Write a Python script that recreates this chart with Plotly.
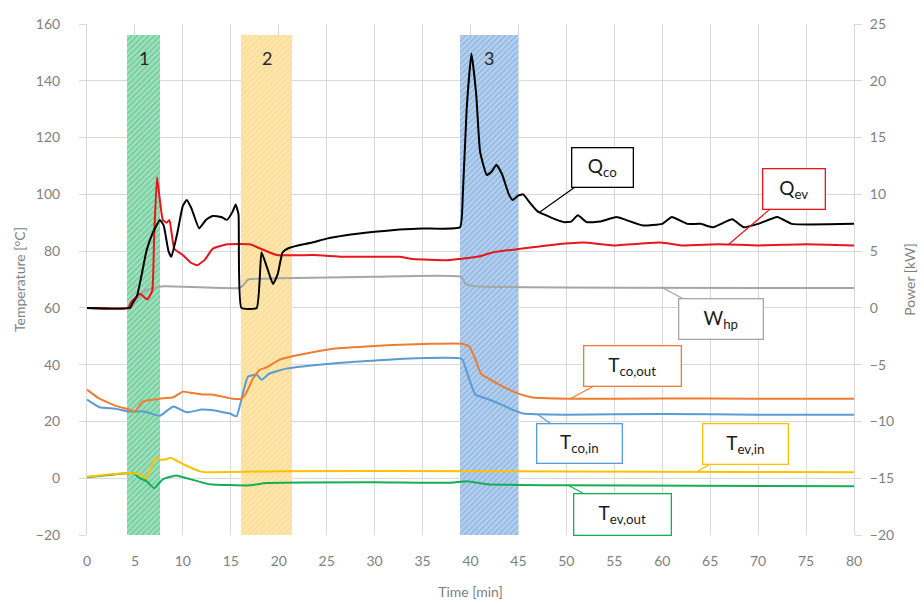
import numpy as np
import plotly.graph_objects as go

# ---------------- data ----------------
# Power series [kW] (right axis)
t_qco = [0, 4.5, 4.8, 5.2, 5.6, 6.2, 6.8, 7.6, 8.0, 8.5, 8.8, 9.4, 10.0, 10.4, 10.9, 11.7, 12.4,
         13.1, 14.0, 14.6, 15.2, 15.5, 15.8, 16.1, 17.7, 18.2, 18.8, 19.4, 19.9, 20.4, 21.0, 22.0,
         23.5, 25.0, 27.0, 30.0, 32.6, 35.0, 38.9, 39.2, 39.6, 40.1, 40.6, 41.0, 41.7, 42.2, 42.7,
         43.3, 44.0, 44.4, 45.0, 45.5, 46.2, 47.0, 47.6, 49.0, 49.8, 50.5, 51.2, 52.1, 53.5, 55.2,
         56.2, 58.0, 60.0, 61.0, 62.6, 64.0, 65.3, 67.3, 68.5, 70.0, 72.0, 73.5, 80.0]
q_co = [0, 0, 0.5, 1.0, 2.5, 5.0, 6.5, 7.75, 7.25, 5.0, 4.5, 6.5, 9.0, 9.5, 8.75, 7.0, 7.75,
        8.1, 8.0, 7.75, 8.5, 9.1, 8.25, 0, 0, 4.9, 3.5, 2.1, 3.0, 4.9, 5.25, 5.5,
        5.75, 6.1, 6.4, 6.7, 6.9, 7.0, 7.1, 10.0, 17.5, 22.4, 18.75, 13.75, 11.7, 12.0, 12.6,
        11.75, 10.0, 9.5, 9.9, 10.0, 9.25, 8.5, 8.25, 7.75, 7.55, 7.6, 8.15, 7.55, 7.6, 8.0,
        7.75, 7.25, 7.4, 8.0, 7.4, 7.4, 7.1, 7.8, 7.1, 7.4, 8.0, 7.4, 7.4]

t_qev = [0, 4.3, 4.6, 5.5, 6.3, 6.8, 7.0, 7.3, 7.6, 7.9, 8.3, 8.6, 9.1, 10.0, 10.8, 11.5, 12.3,
         13.1, 14.6, 17.0, 18.0, 19.8, 23.6, 27.0, 32.6, 34.0, 37.5, 40.7, 42.4, 45.2, 48.0, 51.8,
         54.9, 59.8, 62.0, 66.0, 70.0, 75.0, 80.0]
q_ev = [0, 0, 0.5, 1.25, 0.75, 1.5, 6.25, 11.5, 9.5, 7.75, 7.5, 7.75, 5.2, 4.65, 4.0, 3.75, 4.25,
        5.2, 5.6, 5.6, 5.25, 4.65, 4.65, 4.5, 4.5, 4.3, 4.2, 4.5, 4.9, 5.2, 5.5, 5.75,
        5.5, 5.75, 5.5, 5.6, 5.5, 5.6, 5.5]

t_whp = [0, 4.5, 5.2, 6.0, 7.0, 8.0, 15.8, 16.3, 16.8, 20.0, 30.0, 39.0, 39.5, 40.5, 80.0]
w_hp = [0, 0, 0.75, 1.5, 1.75, 1.9, 1.75, 2.0, 2.5, 2.6, 2.75, 2.75, 2.1, 1.9, 1.75]

# Temperature series [°C] (left axis)
t_tcoout = [0, 1.3, 3.0, 4.4, 5.0, 5.8, 7.6, 9.0, 10.0, 11.0, 12.0, 13.0, 15.2, 16.1, 16.6, 17.3,
            18.0, 18.7, 20.1, 22.2, 25.7, 30.0, 32.6, 36.0, 39.2, 39.9, 40.5, 41.1, 43.0, 45.0,
            46.5, 50.0, 60.0, 70.0, 80.0]
t_co_out = [31.2, 28.0, 25.5, 24.2, 23.5, 27.0, 28.0, 28.5, 30.5, 30.0, 29.5, 29.5, 28.0, 28.0, 30.0, 35.0,
            38.2, 39.0, 41.8, 43.5, 45.6, 46.6, 47.0, 47.4, 47.4, 46.3, 42.0, 36.8, 33.0, 29.8,
            28.4, 28.0, 28.1, 28.0, 28.0]

t_tcoin = [0, 1.3, 3.0, 4.4, 6.0, 7.6, 9.0, 10.4, 12.0, 13.0, 14.9, 15.6, 16.3, 16.8, 17.7, 18.2,
           19.0, 20.8, 25.7, 32.6, 39.1, 39.7, 40.5, 41.7, 43.0, 44.5, 45.5, 50.0, 60.0, 70.0, 80.0]
t_co_in = [27.7, 25.0, 24.5, 23.5, 23.5, 22.0, 25.3, 23.2, 24.2, 24.0, 22.8, 21.8, 30.5, 35.8, 36.5, 34.7,
           36.8, 38.6, 40.4, 42.0, 42.0, 36.5, 29.5, 28.0, 26.3, 24.0, 22.8, 22.4, 22.6, 22.4, 22.4]

t_tevin = [0, 2.0, 4.5, 5.5, 6.2, 6.7, 7.2, 7.6, 8.3, 8.7, 10.0, 11.7, 12.5, 20.0, 40.0, 60.0, 80.0]
t_ev_in = [0.5, 1.2, 1.8, 1.4, 0.0, 4.2, 7.0, 6.5, 6.7, 7.2, 5.0, 2.5, 2.1, 2.5, 2.5, 2.3, 2.1]

t_tevout = [0, 2.0, 4.8, 5.5, 6.2, 7.0, 7.9, 9.3, 10.4, 12.8, 17.0, 18.7, 30.0, 38.0, 39.6, 41.7, 50.0, 80.0]
t_ev_out = [0.3, 1.0, 1.8, 0.0, -1.0, -3.5, -0.4, 1.0, 0.0, -2.1, -2.5, -1.7, -1.4, -1.6, -1.1, -2.1, -2.5, -2.8]

# Highlighted phases
band_labels = ["1", "2", "3"]
band_start = [4.2, 16.1, 38.9]
band_end = [7.6, 21.4, 45.0]
band_bottom = -20
band_top = 156

x_ticks = list(range(0, 81, 5))
y_ticks = list(range(-20, 161, 20))
y2_ticks = list(range(-20, 26, 5))

# ---------------- styling ----------------
FONT = "Lato"
GRID = "#d9d9d9"
TICKC = "#7f7f7f"

band_bg = ["#a2e0bd", "#fde6ad", "#b5d0ee"]
band_fg = ["#62c993", "#f9da92", "#8ab2dd"]

fig = go.Figure()

for lab, s, e, bg, fg in zip(band_labels, band_start, band_end, band_bg, band_fg):
    fig.add_trace(go.Bar(
        x=[(s + e) / 2], y=[band_top - band_bottom], base=[band_bottom], width=[e - s],
        marker=dict(color=bg, line=dict(width=0),
                    pattern=dict(shape="/", fgcolor=fg, bgcolor=bg, size=4, solidity=0.3,
                                 fillmode="replace")),
        showlegend=False, hoverinfo="skip", yaxis="y"))
    fig.add_annotation(x=(s + e) / 2, y=148, xref="x", yref="y", text=lab, showarrow=False,
                       font=dict(family=FONT, size=18, color="#262626"))

series = [
    ("Tev,out", t_tevout, t_ev_out, "#16ad57", "y"),
    ("Tev,in", t_tevin, t_ev_in, "#ffc000", "y"),
    ("Tco,in", t_tcoin, t_co_in, "#5b9bd5", "y"),
    ("Tco,out", t_tcoout, t_co_out, "#ed7d31", "y"),
    ("Whp", t_whp, w_hp, "#a6a6a6", "y2"),
    ("Qev", t_qev, q_ev, "#e8151b", "y2"),
    ("Qco", t_qco, q_co, "#000000", "y2"),
]
for name, xs, ys, col, ax in series:
    fig.add_trace(go.Scatter(x=xs, y=ys, mode="lines", name=name, yaxis=ax,
                             line=dict(color=col, width=2, shape="spline", smoothing=0.4),
                             showlegend=False, hoverinfo="skip"))

# callout labels: (html text, series x, series y, yref, border colour, ax, ay, w, h)
callouts = [
    ("Q<sub>co</sub>", 47.2, np.interp(47.2, t_qco, q_co), "y2", "#000000", 63, -45, 60, 38),
    ("Q<sub>ev</sub>", 66.9, np.interp(66.9, t_qev, q_ev), "y2", "#e8151b", 66, -56, 61, 39),
    ("W<sub>hp</sub>", 59.9, np.interp(59.9, t_whp, w_hp), "y2", "#a6a6a6", 60, 32, 83, 39),
    ("T<sub>co,out</sub>", 50.4, np.interp(50.4, t_tcoout, t_co_out), "y", "#ed7d31", 62, -33, 96, 39),
    ("T<sub>co,in</sub>", 46.9, np.interp(46.9, t_tcoin, t_co_in), "y", "#5b9bd5", 43, 30, 84, 38),
    ("T<sub>ev,in</sub>", 63.6, np.interp(63.6, t_tevin, t_ev_in), "y", "#ffc000", 49, -28, 84, 39),
    ("T<sub>ev,out</sub>", 50.2, np.interp(50.2, t_tevout, t_ev_out), "y", "#16ad57", 54, 29, 96, 40),
]
for txt, xv, yv, yref, col, axp, ayp, w, h in callouts:
    fig.add_annotation(x=xv, y=float(yv), xref="x", yref=yref, text=txt,
                       showarrow=True, arrowhead=0, arrowwidth=1.2, arrowcolor=col,
                       ax=axp, ay=ayp, bordercolor=col, borderwidth=1.3, borderpad=0,
                       bgcolor="white", width=w, height=h,
                       font=dict(family=FONT, size=19, color="#1a1a1a"))

fig.update_layout(
    width=924, height=604,
    margin=dict(l=87, r=70, t=24, b=69),
    paper_bgcolor="white", plot_bgcolor="white",
    barmode="overlay", bargap=0,
    font=dict(family=FONT, size=14, color=TICKC),
    xaxis=dict(range=[0, 80], tickvals=x_ticks, showgrid=True, gridcolor=GRID, gridwidth=1,
               zeroline=False, showline=False, ticks="", ticklabelstandoff=16, automargin=False,
               title=dict(text="Time [min]", font=dict(size=14, color=TICKC), standoff=19),
               tickfont=dict(size=14, color=TICKC)),
    yaxis=dict(range=[-20, 160], tickvals=y_ticks, showgrid=True, gridcolor=GRID, gridwidth=1,
               zeroline=False, showline=True, linecolor=GRID, linewidth=1, automargin=False,
               ticks="outside", ticklen=7, tickcolor=GRID, ticklabelstandoff=16,
               title=dict(text="Temperature [°C]", font=dict(size=14, color=TICKC), standoff=6),
               tickfont=dict(size=14, color=TICKC)),
    yaxis2=dict(range=[-20, 25], tickvals=y2_ticks, overlaying="y", side="right",
                showgrid=False, zeroline=False, showline=True, linecolor=GRID, linewidth=1,
                automargin=False,
                ticks="outside", ticklen=7, tickcolor=GRID, ticklabelstandoff=5,
                title=dict(text="Power [kW]", font=dict(size=14, color=TICKC), standoff=12),
                tickfont=dict(size=14, color=TICKC)),
)

fig.write_html("out.html")
